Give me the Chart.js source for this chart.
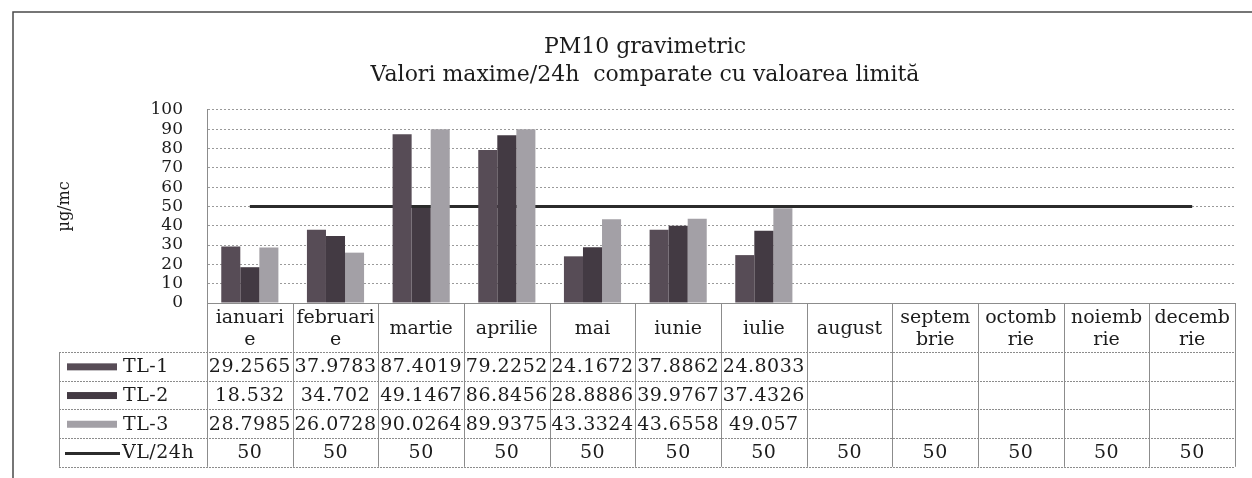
<!DOCTYPE html>
<html>
<head>
<meta charset="utf-8">
<script src="https://cdn.jsdelivr.net/npm/chart.js@4.4.1/dist/chart.umd.min.js"></script>
<style>
  html, body { margin: 0; padding: 0; background: #ffffff; }
  #wrap { width: 1252px; height: 478px; }
</style>
</head>
<body>
<div id="wrap"><canvas id="c" width="1252" height="478"></canvas></div>
<script>
// ---- data ----
const categories = ['ianuarie', 'februarie', 'martie', 'aprilie', 'mai', 'iunie', 'iulie', 'august', 'septembrie', 'octombrie', 'noiembrie', 'decembrie'];
const categoryLabels = [['ianuari', 'e'], ['februari', 'e'], 'martie', 'aprilie', 'mai', 'iunie', 'iulie', 'august', ['septem', 'brie'], ['octomb', 'rie'], ['noiemb', 'rie'], ['decemb', 'rie']];
const tl1 = [29.2565, 37.9783, 87.4019, 79.2252, 24.1672, 37.8862, 24.8033, null, null, null, null, null];
const tl2 = [18.532, 34.702, 49.1467, 86.8456, 28.8886, 39.9767, 37.4326, null, null, null, null, null];
const tl3 = [28.7985, 26.0728, 90.0264, 89.9375, 43.3324, 43.6558, 49.057, null, null, null, null, null];
const vl24h = [50, 50, 50, 50, 50, 50, 50, 50, 50, 50, 50, 50];
const yTicks = [0, 10, 20, 30, 40, 50, 60, 70, 80, 90, 100];
const titleLines = ['PM10 gravimetric', 'Valori maxime/24h  comparate cu valoarea limită'];
const yTitle = 'µg/mc';

const FONT = "'DejaVu Serif', 'Liberation Serif', serif";
const TXT = '#1c1c1c';

// frame + data table plugin
const tablePlugin = {
  id: 'dataTable',
  beforeDraw(chart) {
    const ctx = chart.ctx;
    ctx.save();
    ctx.fillStyle = '#ffffff';
    ctx.fillRect(0, 0, chart.width, chart.height);
    ctx.strokeStyle = '#4a4a4a';
    ctx.lineWidth = 1.5;
    ctx.beginPath();
    ctx.moveTo(13, chart.height);
    ctx.lineTo(13, 12);
    ctx.lineTo(chart.width, 12);
    ctx.stroke();
    ctx.restore();
  },
  afterDraw(chart) {
    const ctx = chart.ctx;
    const area = chart.chartArea;
    const n = categories.length;
    const cw = (area.right - area.left) / n;
    const headTop = area.bottom;
    const headBottom = headTop + 49;
    const rowH = 28.7;
    const tableLeft = 59;
    const nRows = chart.data.datasets.length;
    const tableBottom = headBottom + rowH * nRows;

    ctx.save();
    ctx.strokeStyle = '#8c8c8c';
    ctx.lineWidth = 1;
    ctx.setLineDash([]);
    ctx.beginPath();
    ctx.moveTo(area.left, headTop + 0.5);
    ctx.lineTo(area.right, headTop + 0.5);
    ctx.stroke();
    ctx.setLineDash([2, 1]);
    for (let r = 0; r <= nRows; r++) {
      const y = Math.round(headBottom + r * rowH) + 0.5;
      ctx.beginPath();
      ctx.moveTo(tableLeft, y);
      ctx.lineTo(area.right, y);
      ctx.stroke();
    }
    ctx.setLineDash([]);
    for (let i = 0; i <= n; i++) {
      const x = Math.round(area.left + i * cw) + 0.5;
      ctx.beginPath();
      ctx.moveTo(x, headTop);
      ctx.lineTo(x, tableBottom);
      ctx.stroke();
    }
    ctx.beginPath();
    ctx.moveTo(tableLeft + 0.5, headBottom);
    ctx.lineTo(tableLeft + 0.5, tableBottom);
    ctx.stroke();

    // header labels
    ctx.fillStyle = TXT;
    ctx.font = '19px ' + FONT;
    ctx.textAlign = 'center';
    ctx.textBaseline = 'middle';
    const xs = chart.scales.x;
    categoryLabels.forEach((lab, i) => {
      const cx = xs.getPixelForValue(i);
      if (Array.isArray(lab)) {
        ctx.fillText(lab[0], cx, headTop + 15);
        ctx.fillText(lab[1], cx, headTop + 37);
      } else {
        ctx.fillText(lab, cx, headTop + 26);
      }
    });

    // rows
    chart.data.datasets.forEach((ds, r) => {
      const yc = headBottom + r * rowH + rowH / 2;
      if (ds.type === 'line') {
        ctx.strokeStyle = ds.borderColor;
        ctx.lineWidth = 3;
        ctx.beginPath();
        ctx.moveTo(65, yc + 1);
        ctx.lineTo(120, yc + 1);
        ctx.stroke();
      } else {
        ctx.fillStyle = ds.backgroundColor;
        ctx.fillRect(67, yc - 3, 50, 7);
      }
      ctx.fillStyle = TXT;
      ctx.textAlign = 'left';
      ctx.letterSpacing = '0.5px';
      ctx.fillText(ds.label, ds.type === 'line' ? 122 : 123, yc + 1);
      ctx.textAlign = 'center';
      ds.data.forEach((v, i) => {
        if (v === null || v === undefined) return;
        ctx.fillText(String(v), xs.getPixelForValue(i), yc + 1);
      });
      ctx.letterSpacing = '0px';
    });
    ctx.restore();
  }
};

new Chart(document.getElementById('c'), {
  data: {
    labels: categories,
    datasets: [
      { type: 'bar', label: 'TL-1', data: tl1, backgroundColor: '#574c56', order: 1 },
      { type: 'bar', label: 'TL-2', data: tl2, backgroundColor: '#433a43', order: 1 },
      { type: 'bar', label: 'TL-3', data: tl3, backgroundColor: '#a3a0a6', order: 1 },
      { type: 'line', label: 'VL/24h', data: vl24h, borderColor: '#2b2b2b', backgroundColor: '#2b2b2b',
        borderWidth: 3, pointRadius: 0, fill: false, tension: 0, order: 2 }
    ]
  },
  options: {
    responsive: false,
    animation: false,
    devicePixelRatio: 1,
    layout: { padding: { left: 55, right: 17, top: 0, bottom: 0 } },
    datasets: {
      bar: { categoryPercentage: 0.667, barPercentage: 1.0, borderWidth: 0 }
    },
    plugins: {
      legend: { display: false },
      tooltip: { enabled: false },
      title: {
        display: true,
        text: titleLines,
        color: TXT,
        font: { family: FONT, size: 22, weight: 'normal', lineHeight: 1.27 },
        padding: { top: 33, bottom: 21 }
      }
    },
    scales: {
      x: {
        display: true,
        ticks: { display: false },
        grid: { display: false, drawTicks: false },
        border: { display: false },
        afterFit(scale) { scale.height = 175; }
      },
      y: {
        min: 0,
        max: 100,
        afterBuildTicks(scale) { scale.ticks = yTicks.map(v => ({ value: v })); },
        ticks: {
          color: TXT,
          padding: 24,
          autoSkip: false,
          font: { family: FONT, size: 17, lineHeight: 1.0 }
        },
        grid: { color: '#9a9a9a', lineWidth: 1, drawTicks: false },
        border: { display: true, color: '#8c8c8c', width: 1, dash: [2, 2] },
        title: {
          display: true,
          text: yTitle,
          color: TXT,
          font: { family: FONT, size: 16 },
          padding: { top: 0, bottom: 0 }
        },
        afterFit(scale) { scale.width = 152; }
      }
    }
  },
  plugins: [tablePlugin]
});
</script>
</body>
</html>
